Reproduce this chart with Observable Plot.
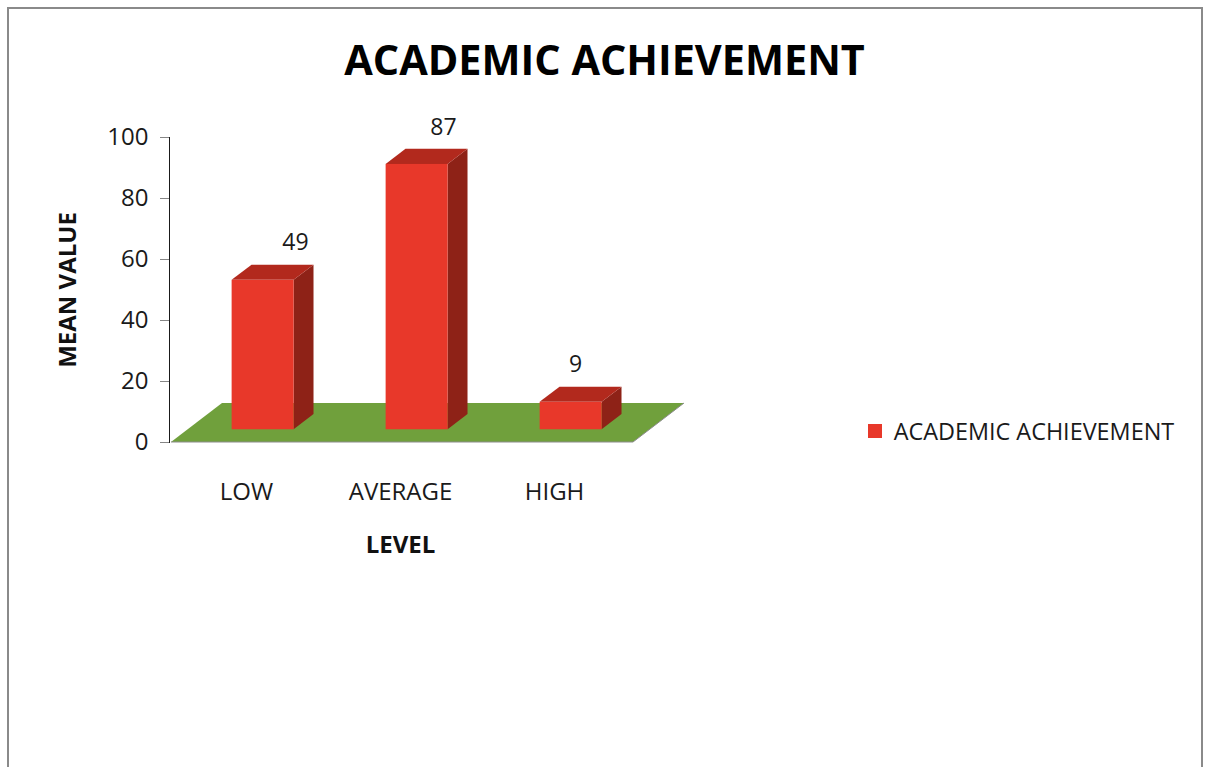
<!DOCTYPE html>
<html>
<head>
<meta charset="utf-8">
<script src="https://cdn.jsdelivr.net/npm/d3@7"></script>
<script src="https://cdn.jsdelivr.net/npm/@observablehq/plot@0.6"></script>
<style>
  html, body { margin: 0; padding: 0; background: #fff; overflow: hidden; }
  #wrap { position: relative; width: 1208px; height: 767px; overflow: hidden; font-family: "Open Sans", sans-serif; }
  #border { position: absolute; left: 7px; top: 7px; width: 1196px; height: 820px; border: 2.5px solid #8a8a8a; box-sizing: border-box; }
  #chart { position: absolute; left: 0; top: 0; }
  #legend { position: absolute; left: 868px; top: 414px; }
</style>
</head>
<body>
<div id="wrap">
  <div id="border"></div>
  <div id="chart"></div>
  <div id="legend"></div>
</div>
<script>
// ---- data ----
const levels = ["LOW", "AVERAGE", "HIGH"];
const meanValues = [49, 87, 9];
const yTicks = [0, 20, 40, 60, 80, 100];
const chartTitle = "ACADEMIC ACHIEVEMENT";
const seriesName = "ACADEMIC ACHIEVEMENT";
const xTitle = "LEVEL";
const yTitle = "MEAN VALUE";

const data = levels.map((level, i) => ({ level, value: meanValues[i] }));

// ---- styling ----
const FRONT_COLOR = "#E8382A", TOP_COLOR = "#B2291D", SIDE_COLOR = "#8E2217", FLOOR_COLOR = "#70A03C";
const DEPTH = { x: 51, y: -39 };       // floor depth in pixels
const FRONT = 0.326, BACK = 0.716;     // bar front/back planes as fraction of depth

const fdx = FRONT * DEPTH.x, fdy = FRONT * DEPTH.y;

const labelDx = { LOW: 49, AVERAGE: 43, HIGH: 21 };

const plot = Plot.plot({
  width: 1208,
  height: 767,
  marginLeft: 169,
  marginRight: 577,
  marginTop: 137,
  marginBottom: 325,
  style: { fontFamily: "Open Sans", fontSize: "24px", color: "#1a1a1a", background: "transparent", overflow: "visible" },
  x: { domain: levels, paddingInner: 0.6, paddingOuter: 0.3, label: null, tickSize: 0, tickPadding: 40 },
  y: { domain: [0, 100], ticks: yTicks, label: null, tickSize: 9, tickPadding: 12, line: true },
  marks: [
    Plot.barY(data, { x: "level", y: "value", fill: FRONT_COLOR, dx: fdx, dy: fdy }),
    ...levels.map(l => Plot.text(data.filter(d => d.level === l), {
      x: "level", y: "value", text: d => String(d.value), dx: labelDx[l], dy: -50,
      fontSize: 23, fill: "#1a1a1a", lineAnchor: "middle"
    })),
    Plot.text([xTitle], { text: d => d, frameAnchor: "bottom", dy: 103, textAnchor: "middle", lineAnchor: "middle", fontWeight: "bold", fontSize: 24, fill: "#111" }),
    Plot.text([yTitle], { text: d => d, frameAnchor: "left", dx: -101, rotate: -90, textAnchor: "middle", lineAnchor: "middle", fontWeight: "bold", fontSize: 24, fill: "#111" }),
    Plot.text([chartTitle], { text: d => d, frameAnchor: "top", dx: 204, dy: -76, textAnchor: "middle", lineAnchor: "middle", fontWeight: "bold", fontSize: 41.4, fill: "#000" })
  ]
});

// grey axis ticks/line, dark tick labels
d3.select(plot).selectAll('g[aria-label="y-axis tick"], g[aria-label="y-axis line"]').attr("stroke", "#868686");
d3.select(plot).selectAll('g[aria-label="y-axis tick label"], g[aria-label="x-axis tick label"]').attr("fill", "#1a1a1a");

// 3D floor and bar faces, computed from the plot's own scales
const xs = plot.scale("x"), ys = plot.scale("y");
const bw = xs.bandwidth;
const [r0, r1] = xs.range;
const y0 = ys.apply(0);
const ddx = (BACK - FRONT) * DEPTH.x, ddy = (BACK - FRONT) * DEPTH.y;

const g = d3.create("svg:g").attr("aria-label", "3d faces");
const floorPts = [[r0 + 2, y0], [r1 + 2, y0], [r1 + 2 + DEPTH.x, y0 + DEPTH.y], [r0 + 2 + DEPTH.x, y0 + DEPTH.y]];
g.append("path").attr("d", "M" + floorPts.join("L") + "Z").attr("fill", FLOOR_COLOR);
g.append("path").attr("d", "M" + [floorPts[0], floorPts[1], floorPts[2]].join("L")).attr("fill", "none").attr("stroke", "#8c8c8c").attr("stroke-width", 1);

for (const d of data) {
  const xL = xs.apply(d.level) + fdx, xR = xL + bw;
  const yT = ys.apply(d.value) + fdy, yB = y0 + fdy;
  const top = [[xL, yT], [xR, yT], [xR + ddx, yT + ddy], [xL + ddx, yT + ddy]];
  const side = [[xR, yT], [xR + ddx, yT + ddy], [xR + ddx, yB + ddy], [xR, yB]];
  g.append("path").attr("d", "M" + side.join("L") + "Z").attr("fill", SIDE_COLOR);
  g.append("path").attr("d", "M" + top.join("L") + "Z").attr("fill", TOP_COLOR);
}
const barG = plot.querySelector('g[aria-label="bar"]');
plot.insertBefore(g.node(), barG);

document.getElementById("chart").appendChild(plot);

// legend from a color scale
const legend = Plot.legend({
  color: { type: "ordinal", domain: [seriesName], range: [FRONT_COLOR] },
  legend: "swatches",
  swatchSize: 14,
  style: { fontFamily: "Open Sans", fontSize: "23.4px", color: "#1a1a1a" }
});
document.getElementById("legend").appendChild(legend);
</script>
</body>
</html>
